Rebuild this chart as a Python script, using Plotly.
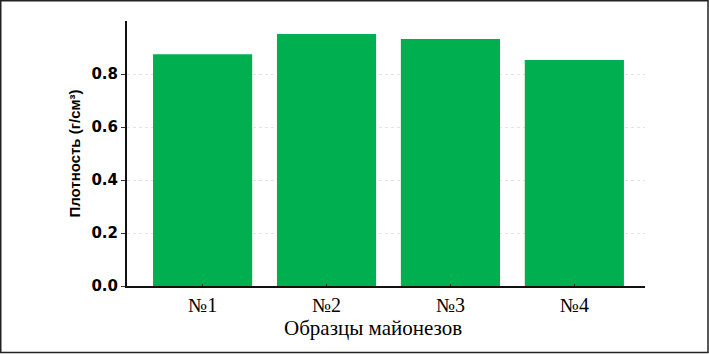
import plotly.graph_objects as go

categories = ["№1", "№2", "№3", "№4"]
density = [0.875, 0.951, 0.932, 0.853]
y_ticks = [0.0, 0.2, 0.4, 0.6, 0.8]
y_tick_labels = ["0.0", "0.2", "0.4", "0.6", "0.8"]
x_title = "Образцы майонезов"
y_title = "Плотность (г/см³)"

W, H = 709, 354
ML, MR, MT, MB = 127, 64, 21, 68
pw = W - ML - MR
ph = H - MT - MB

def px_to_paper_x(px):
    return (px - ML) / pw

def px_to_paper_y(py):
    return (H - MB - py) / ph

fig = go.Figure()
fig.add_trace(go.Bar(
    x=list(range(len(categories))),
    y=density,
    width=0.8,
    marker=dict(color="#00B050", line=dict(width=0)),
))

fig.update_layout(
    width=W, height=H,
    margin=dict(l=ML, r=MR, t=MT, b=MB, pad=0),
    paper_bgcolor="white",
    plot_bgcolor="white",
    showlegend=False,
    xaxis=dict(
        range=[-0.61, 3.57],
        tickmode="array",
        tickvals=list(range(len(categories))),
        ticktext=categories,
        showline=True, linecolor="#111", linewidth=2,
        ticks="inside", ticklen=2, tickcolor="#333",
        showgrid=False, zeroline=False,
        tickfont=dict(family="Liberation Serif", size=20, color="black"),
    ),
    yaxis=dict(
        range=[0, 1.0],
        tickmode="array",
        tickvals=y_ticks,
        ticktext=y_tick_labels,
        showline=True, linecolor="#111", linewidth=2,
        ticks="outside", ticklen=4, tickcolor="#333",
        showgrid=True, gridcolor="#e4e4e4", griddash="dot", gridwidth=1,
        zeroline=False,
        tickfont=dict(family="DejaVu Sans", size=15, color="black", weight="bold"),
        title=dict(text=y_title,
                   font=dict(family="Liberation Sans", size=15, color="black", weight="bold"),
                   standoff=7),
    ),
    annotations=[dict(
        text=x_title, xref="paper", yref="paper",
        x=px_to_paper_x(373), y=px_to_paper_y(328),
        xanchor="center", yanchor="middle", showarrow=False,
        font=dict(family="Liberation Serif", size=21, color="black"),
    )],
    shapes=[dict(
        type="rect", xref="paper", yref="paper",
        x0=px_to_paper_x(0.75), x1=px_to_paper_x(708),
        y0=px_to_paper_y(352.5), y1=px_to_paper_y(0.75),
        line=dict(color="#222", width=1.5),
        fillcolor="rgba(0,0,0,0)", layer="above",
    )],
)

fig.write_html("out.html")
